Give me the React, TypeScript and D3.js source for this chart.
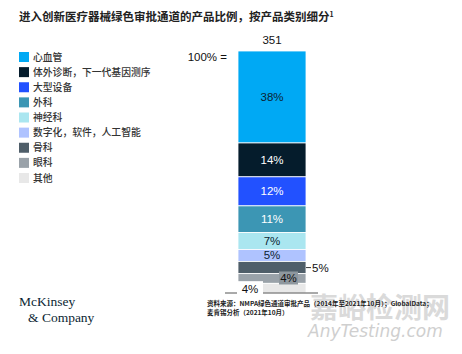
import React from 'react';
import * as d3 from 'd3';

// data
const categories = [
  '心血管',
  '体外诊断，下一代基因测序',
  '大型设备',
  '外科',
  '神经科',
  '数字化，软件，人工智能',
  '骨科',
  '眼科',
  '其他',
];
const shares = [38, 14, 12, 11, 7, 5, 5, 4, 4];
const colors = ['#00a9f4', '#051c2c', '#2251ff', '#3c96b4', '#aae6f0', '#afc3ff', '#4f5e69', '#9aa2a9', '#e8e8e8'];
const labelColors = ['#0b1f33', '#ffffff', '#ffffff', '#ffffff', '#0b1f33', '#0b1f33', '#0b1f33', '#0b1f33', '#0b1f33'];
const total = 351;

const W = 462;
const H = 354;
const numFont = '"Liberation Sans", Arial, sans-serif';
const cjkFont = '"Noto Sans CJK SC", sans-serif';

export default function App() {
  const y = d3.scaleLinear().domain([0, 100]).range([51, 293]);
  const x0 = 238;
  const x1 = 306;
  const xc = (x0 + x1) / 2;

  let acc = 0;
  const segs = shares.map((v, i) => {
    const s = { i, v, top: y(acc), bottom: y(acc + v) };
    acc += v;
    return s;
  });

  const legendY = d3.scalePoint<number>().domain(d3.range(categories.length)).range([57, 178]);

  return (
    <svg width={W} height={H} style={{ position: 'absolute', left: 0, top: 0, background: '#fff' }}>
      <text x={19} y={21} fontFamily={cjkFont} fontWeight={700} fontSize={11.5} fill="#222">
        进入创新医疗器械绿色审批通道的产品比例，按产品类别细分
        <tspan fontSize={7} dy={-4}>1</tspan>
      </text>

      {/* legend */}
      {categories.map((c, i) => (
        <g key={c} transform={`translate(19,${legendY(i)})`}>
          <rect x={0} y={-5} width={10} height={10} fill={colors[i]} />
          <text x={14} y={3.5} fontFamily={cjkFont} fontWeight={500} fontSize={9.8} fill="#333">{c}</text>
        </g>
      ))}

      {/* bar */}
      <text x={xc} y={44} textAnchor="middle" fontFamily={numFont} fontSize={11.5} fill="#111">{total}</text>
      <text x={227} y={61} textAnchor="end" fontFamily={numFont} fontSize={11.5} fill="#111">100% =</text>
      {segs.map(s => (
        <rect key={s.i} x={x0} y={s.top} width={x1 - x0} height={s.bottom - s.top}
          fill={colors[s.i]} stroke="#fff" strokeWidth={0.8} />
      ))}
      <line x1={225} x2={318} y1={y(100)} y2={y(100)} stroke="#555" strokeWidth={1} />

      {segs.map(s => {
        const mid = (s.top + s.bottom) / 2;
        if (s.i === 6) {
          return (
            <g key={s.i}>
              <line x1={x1} x2={311} y1={mid} y2={mid} stroke="#333" strokeWidth={1} />
              <text x={312} y={mid + 4} fontFamily={numFont} fontSize={11.5} fill="#111">{s.v}%</text>
            </g>
          );
        }
        if (s.i === 7) {
          return (
            <g key={s.i}>
              <rect x={279} y={mid - 7} width={19} height={13} fill="#8e979e" />
              <text x={288.5} y={mid + 4} textAnchor="middle" fontFamily={numFont} fontSize={11.5} fill="#111">{s.v}%</text>
            </g>
          );
        }
        if (s.i === 8) {
          return (
            <g key={s.i}>
              <rect x={237} y={mid - 7} width={26} height={14} fill="#fff" />
              <text x={250} y={mid + 5} textAnchor="middle" fontFamily={numFont} fontSize={11.5} fill="#111">{s.v}%</text>
            </g>
          );
        }
        return (
          <text key={s.i} x={xc} y={mid + 4} textAnchor="middle" fontFamily={numFont} fontSize={11.5}
            fill={labelColors[s.i]}>{s.v}%</text>
        );
      })}

      {/* logo */}
      <text x={19} y={306} fontFamily='"Liberation Serif", "DejaVu Serif", serif' fontSize={13.5} fill="#0b1f33">McKinsey</text>
      <text x={28} y={322} fontFamily='"Liberation Serif", "DejaVu Serif", serif' fontSize={13.5} fill="#0b1f33">&amp; Company</text>

      {/* watermark (drawn under the source note) */}
      <text x={310} y={318} fontFamily={cjkFont} fontWeight={700} fontSize={28} fill="#dadada">嘉峪检测网</text>
      <text x={308} y={337} fontFamily='"DejaVu Sans", sans-serif' fontStyle="italic" fontSize={17} fill="#cfcfcf">AnyTesting.com</text>

      {/* source */}
      <text x={207} y={306} fontFamily={cjkFont} fontWeight={700} fontSize={6.5} fill="#222">
        资料来源：NMPA绿色通道审批产品（2014年至2021年10月）；GlobalData；
      </text>
      <text x={207} y={315} fontFamily={cjkFont} fontWeight={700} fontSize={6.5} fill="#222">麦肯锡分析（2021年10月）</text>
    </svg>
  );
}
